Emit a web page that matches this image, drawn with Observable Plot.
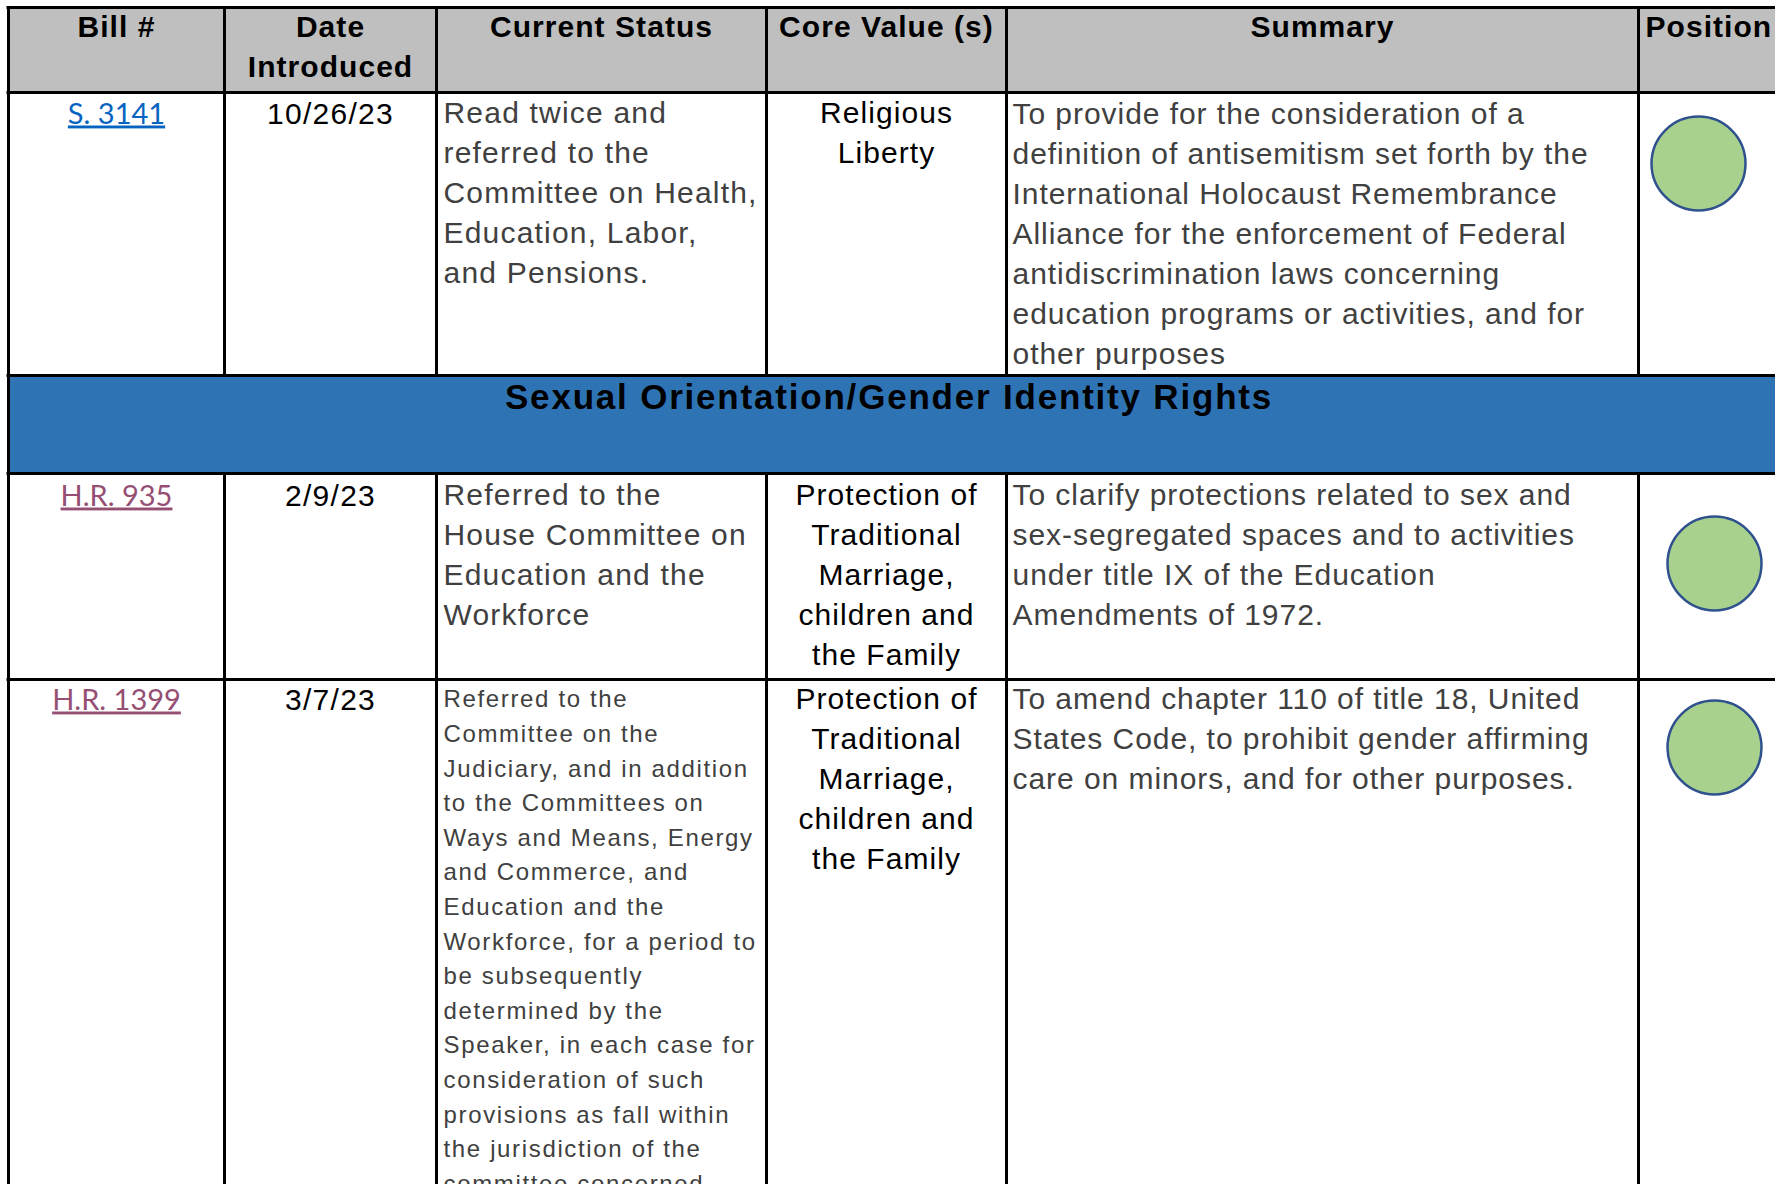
<!DOCTYPE html>
<html>
<head>
<meta charset="utf-8">
<script src="https://cdn.jsdelivr.net/npm/d3@7"></script>
<script src="https://cdn.jsdelivr.net/npm/@observablehq/plot@0.6"></script>
<style>
  html, body { margin: 0; padding: 0; background: #fff; overflow: hidden; }
  #chart svg { display: block; }
</style>
</head>
<body>
<div id="chart"></div>
<script>
// ---------------- DATA ----------------
const headers = ["Bill #", "Date\nIntroduced", "Current Status", "Core Value (s)", "Summary", "Position"];
const sectionTitle = "Sexual Orientation/Gender Identity Rights";
const bills = ["S. 3141", "H.R. 935", "H.R. 1399"];
const billVisited = [false, true, true];
const dates = ["10/26/23", "2/9/23", "3/7/23"];
const statuses = [
  "Read twice and\nreferred to the\nCommittee on Health,\nEducation, Labor,\nand Pensions.",
  "Referred to the\nHouse Committee on\nEducation and the\nWorkforce",
  "Referred to the\nCommittee on the\nJudiciary, and in addition\nto the Committees on\nWays and Means, Energy\nand Commerce, and\nEducation and the\nWorkforce, for a period to\nbe subsequently\ndetermined by the\nSpeaker, in each case for\nconsideration of such\nprovisions as fall within\nthe jurisdiction of the\ncommittee concerned."
];
const coreValues = [
  "Religious\nLiberty",
  "Protection of\nTraditional\nMarriage,\nchildren and\nthe Family",
  "Protection of\nTraditional\nMarriage,\nchildren and\nthe Family"
];
const summaries = [
  "To provide for the consideration of a\ndefinition of antisemitism set forth by the\nInternational Holocaust Remembrance\nAlliance for the enforcement of Federal\nantidiscrimination laws concerning\neducation programs or activities, and for\nother purposes",
  "To clarify protections related to sex and\nsex-segregated spaces and to activities\nunder title IX of the Education\nAmendments of 1972.",
  "To amend chapter 110 of title 18, United\nStates Code, to prohibit gender affirming\ncare on minors, and for other purposes."
];
const positions = ["support", "support", "support"];

// ---------------- LAYOUT ----------------
const W = 1775, H = 1184;
const tableLeft = 8, tableTop = 7;
const colWidths = [216, 212, 330, 240, 632, 170];
const headerHeight = 85, bandHeight = 98;
const rowHeights = [283, 206, 600];
const rowBaseline = [31, 32, 30];        // first baseline offset from row top
const dotOffset = [[60, 71], [76, 90], [76, 68]]; // circle centre offset inside Position cell
const dotRadius = 47;

const colEdges = [tableLeft];
colWidths.forEach(w => colEdges.push(colEdges[colEdges.length - 1] + w));
const colCenter = i => (colEdges[i] + colEdges[i + 1]) / 2;

const headerTop = tableTop, headerBottom = headerTop + headerHeight;
const rowTop = [], rowBottom = [];
let yCursor = headerBottom;
rowTop[0] = yCursor; yCursor += rowHeights[0]; rowBottom[0] = yCursor;
const bandTop = yCursor; yCursor += bandHeight; const bandBottom = yCursor;
rowTop[1] = yCursor; yCursor += rowHeights[1]; rowBottom[1] = yCursor;
rowTop[2] = yCursor; yCursor += rowHeights[2]; rowBottom[2] = yCursor;
const tableBottom = yCursor;
const tableRight = colEdges[colEdges.length - 1];

// ---------------- STYLES ----------------
const sans = "'Liberation Sans', Arial, Helvetica, sans-serif";
const linkFont = "Lato, Calibri, 'Open Sans', sans-serif";
const bodyFS = 30, bodyLH = 40 / 30;
const smallFS = 24, smallLH = 34.6 / 24;
const headerFS = 30, headerLH = 40 / 30;
const bandFS = 35;
const linkFS = 29;
const greyText = "#404040";
const colors = {header: "#BFBFBF", band: "#2E74B5", link: "#0563C1", visited: "#954F72",
  support: "#A9D18E", dotStroke: "#2F528F"};
const anchorY = (baseline, fs, lh) => baseline - 0.71 * lh * fs;

// ---------------- TABLES FOR MARKS ----------------
const rows = bills.map((b, i) => ({
  i, bill: b, visited: billVisited[i], date: dates[i], status: statuses[i],
  core: coreValues[i], summary: summaries[i], position: positions[i]
}));
const headerCells = headers.map((h, i) => ({i, text: h}));

const bgRects = [
  {x1: tableLeft, x2: tableRight, y1: headerTop, y2: headerBottom, fill: colors.header},
  {x1: tableLeft, x2: tableRight, y1: bandTop, y2: bandBottom, fill: colors.band}
];

const vSegs = [];
const segBands = [[headerTop, headerBottom], [rowTop[0], rowBottom[0]], [rowTop[1], rowBottom[1]], [rowTop[2], rowBottom[2]]];
colEdges.forEach((x, k) => {
  if (k === 0) { vSegs.push({x, y1: tableTop, y2: tableBottom}); return; }
  segBands.forEach(([y1, y2]) => vSegs.push({x, y1, y2}));
});
const hLines = [headerTop, headerBottom, bandTop, bandBottom, rowBottom[1], rowBottom[2]].map(y => ({y}));

const baseRow = r => rowTop[r.i] + rowBaseline[r.i];

// text marks in order, with letter-spacing applied afterwards
const textSpecs = [];
function textMark(data, opts, spacing, extra) {
  textSpecs.push({spacing, extra});
  return Plot.text(data, opts);
}

// ---------------- PLOT ----------------
const plot = Plot.plot({
  width: W, height: H, margin: 0,
  x: {domain: [0, W], range: [0, W], axis: null},
  y: {domain: [0, H], range: [0, H], axis: null},
  style: {background: "white", overflow: "hidden"},
  marks: [
    Plot.rect(bgRects, {x1: "x1", x2: "x2", y1: "y1", y2: "y2", fill: "fill"}),
    // header
    textMark(headerCells.filter(d => d.i < 5), {
      x: d => colCenter(d.i), y: anchorY(headerTop + 30, headerFS, headerLH),
      text: "text", lineAnchor: "top", lineHeight: headerLH, textAnchor: "middle",
      fontFamily: sans, fontSize: headerFS, fontWeight: "bold", fill: "black"
    }, 1.05),
    textMark(headerCells.filter(d => d.i === 5), {
      x: d => colEdges[d.i] + 7, y: anchorY(headerTop + 30, headerFS, headerLH),
      text: "text", lineAnchor: "top", lineHeight: headerLH, textAnchor: "start",
      fontFamily: sans, fontSize: headerFS, fontWeight: "bold", fill: "black"
    }, 1.05),
    // section band title
    textMark([sectionTitle], {
      x: (tableLeft + W) / 2 - 3, y: anchorY(bandTop + 33, bandFS, 1),
      text: d => d, lineAnchor: "top", textAnchor: "middle",
      fontFamily: sans, fontSize: bandFS, fontWeight: "bold", fill: "black"
    }, 1.8),
    // bill links
    textMark(rows, {
      x: colCenter(0), y: r => anchorY(baseRow(r), linkFS, 1),
      text: "bill", lineAnchor: "top", textAnchor: "middle",
      fontFamily: linkFont, fontSize: linkFS, fill: r => r.visited ? colors.visited : colors.link
    }, 0, "underline"),
    // dates
    textMark(rows, {
      x: colCenter(1), y: r => anchorY(baseRow(r), bodyFS, 1),
      text: "date", lineAnchor: "top", textAnchor: "middle",
      fontFamily: sans, fontSize: bodyFS, fill: "black"
    }, 1.3),
    // status (normal)
    textMark(rows.filter(r => r.i < 2), {
      x: colEdges[2] + 7, y: r => anchorY(baseRow(r), bodyFS, bodyLH),
      text: "status", lineAnchor: "top", lineHeight: bodyLH, textAnchor: "start",
      fontFamily: sans, fontSize: bodyFS, fill: greyText
    }, 1.2),
    // status (small)
    textMark(rows.filter(r => r.i === 2), {
      x: colEdges[2] + 7, y: r => anchorY(baseRow(r) - 2, smallFS, smallLH),
      text: "status", lineAnchor: "top", lineHeight: smallLH, textAnchor: "start",
      fontFamily: sans, fontSize: smallFS, fill: greyText
    }, 1.65),
    // core values
    textMark(rows, {
      x: colCenter(3), y: r => anchorY(baseRow(r), bodyFS, bodyLH),
      text: "core", lineAnchor: "top", lineHeight: bodyLH, textAnchor: "middle",
      fontFamily: sans, fontSize: bodyFS, fill: "black"
    }, 1.05),
    // summaries
    textMark(rows, {
      x: colEdges[4] + 6, y: r => anchorY(baseRow(r) + (r.i === 0 ? 1 : 0), bodyFS, bodyLH),
      text: "summary", lineAnchor: "top", lineHeight: bodyLH, textAnchor: "start",
      fontFamily: sans, fontSize: bodyFS, fill: greyText
    }, 0.95),
    // position dots
    Plot.dot(rows, {
      x: r => colEdges[5] + dotOffset[r.i][0], y: r => rowTop[r.i] + dotOffset[r.i][1],
      r: dotRadius, fill: r => colors[r.position], stroke: colors.dotStroke, strokeWidth: 2.5
    }),
    // grid lines
    Plot.ruleX(vSegs, {x: "x", y1: "y1", y2: "y2", stroke: "black", strokeWidth: 3}),
    Plot.ruleY(hLines, {y: "y", x1: tableLeft - 1.5, x2: tableRight, stroke: "black", strokeWidth: 3})
  ]
});

// letter spacing / underline tweaks, matched to the text marks by order
const textGroups = plot.querySelectorAll('g[aria-label="text"]');
textGroups.forEach((g, k) => {
  const spec = textSpecs[k];
  if (!spec) return;
  g.querySelectorAll("text").forEach(t => {
    t.style.letterSpacing = spec.spacing + "px";
    if (spec.extra) { t.style.textDecoration = "underline"; }
  });
});

document.getElementById("chart").appendChild(plot);
</script>
</body>
</html>
